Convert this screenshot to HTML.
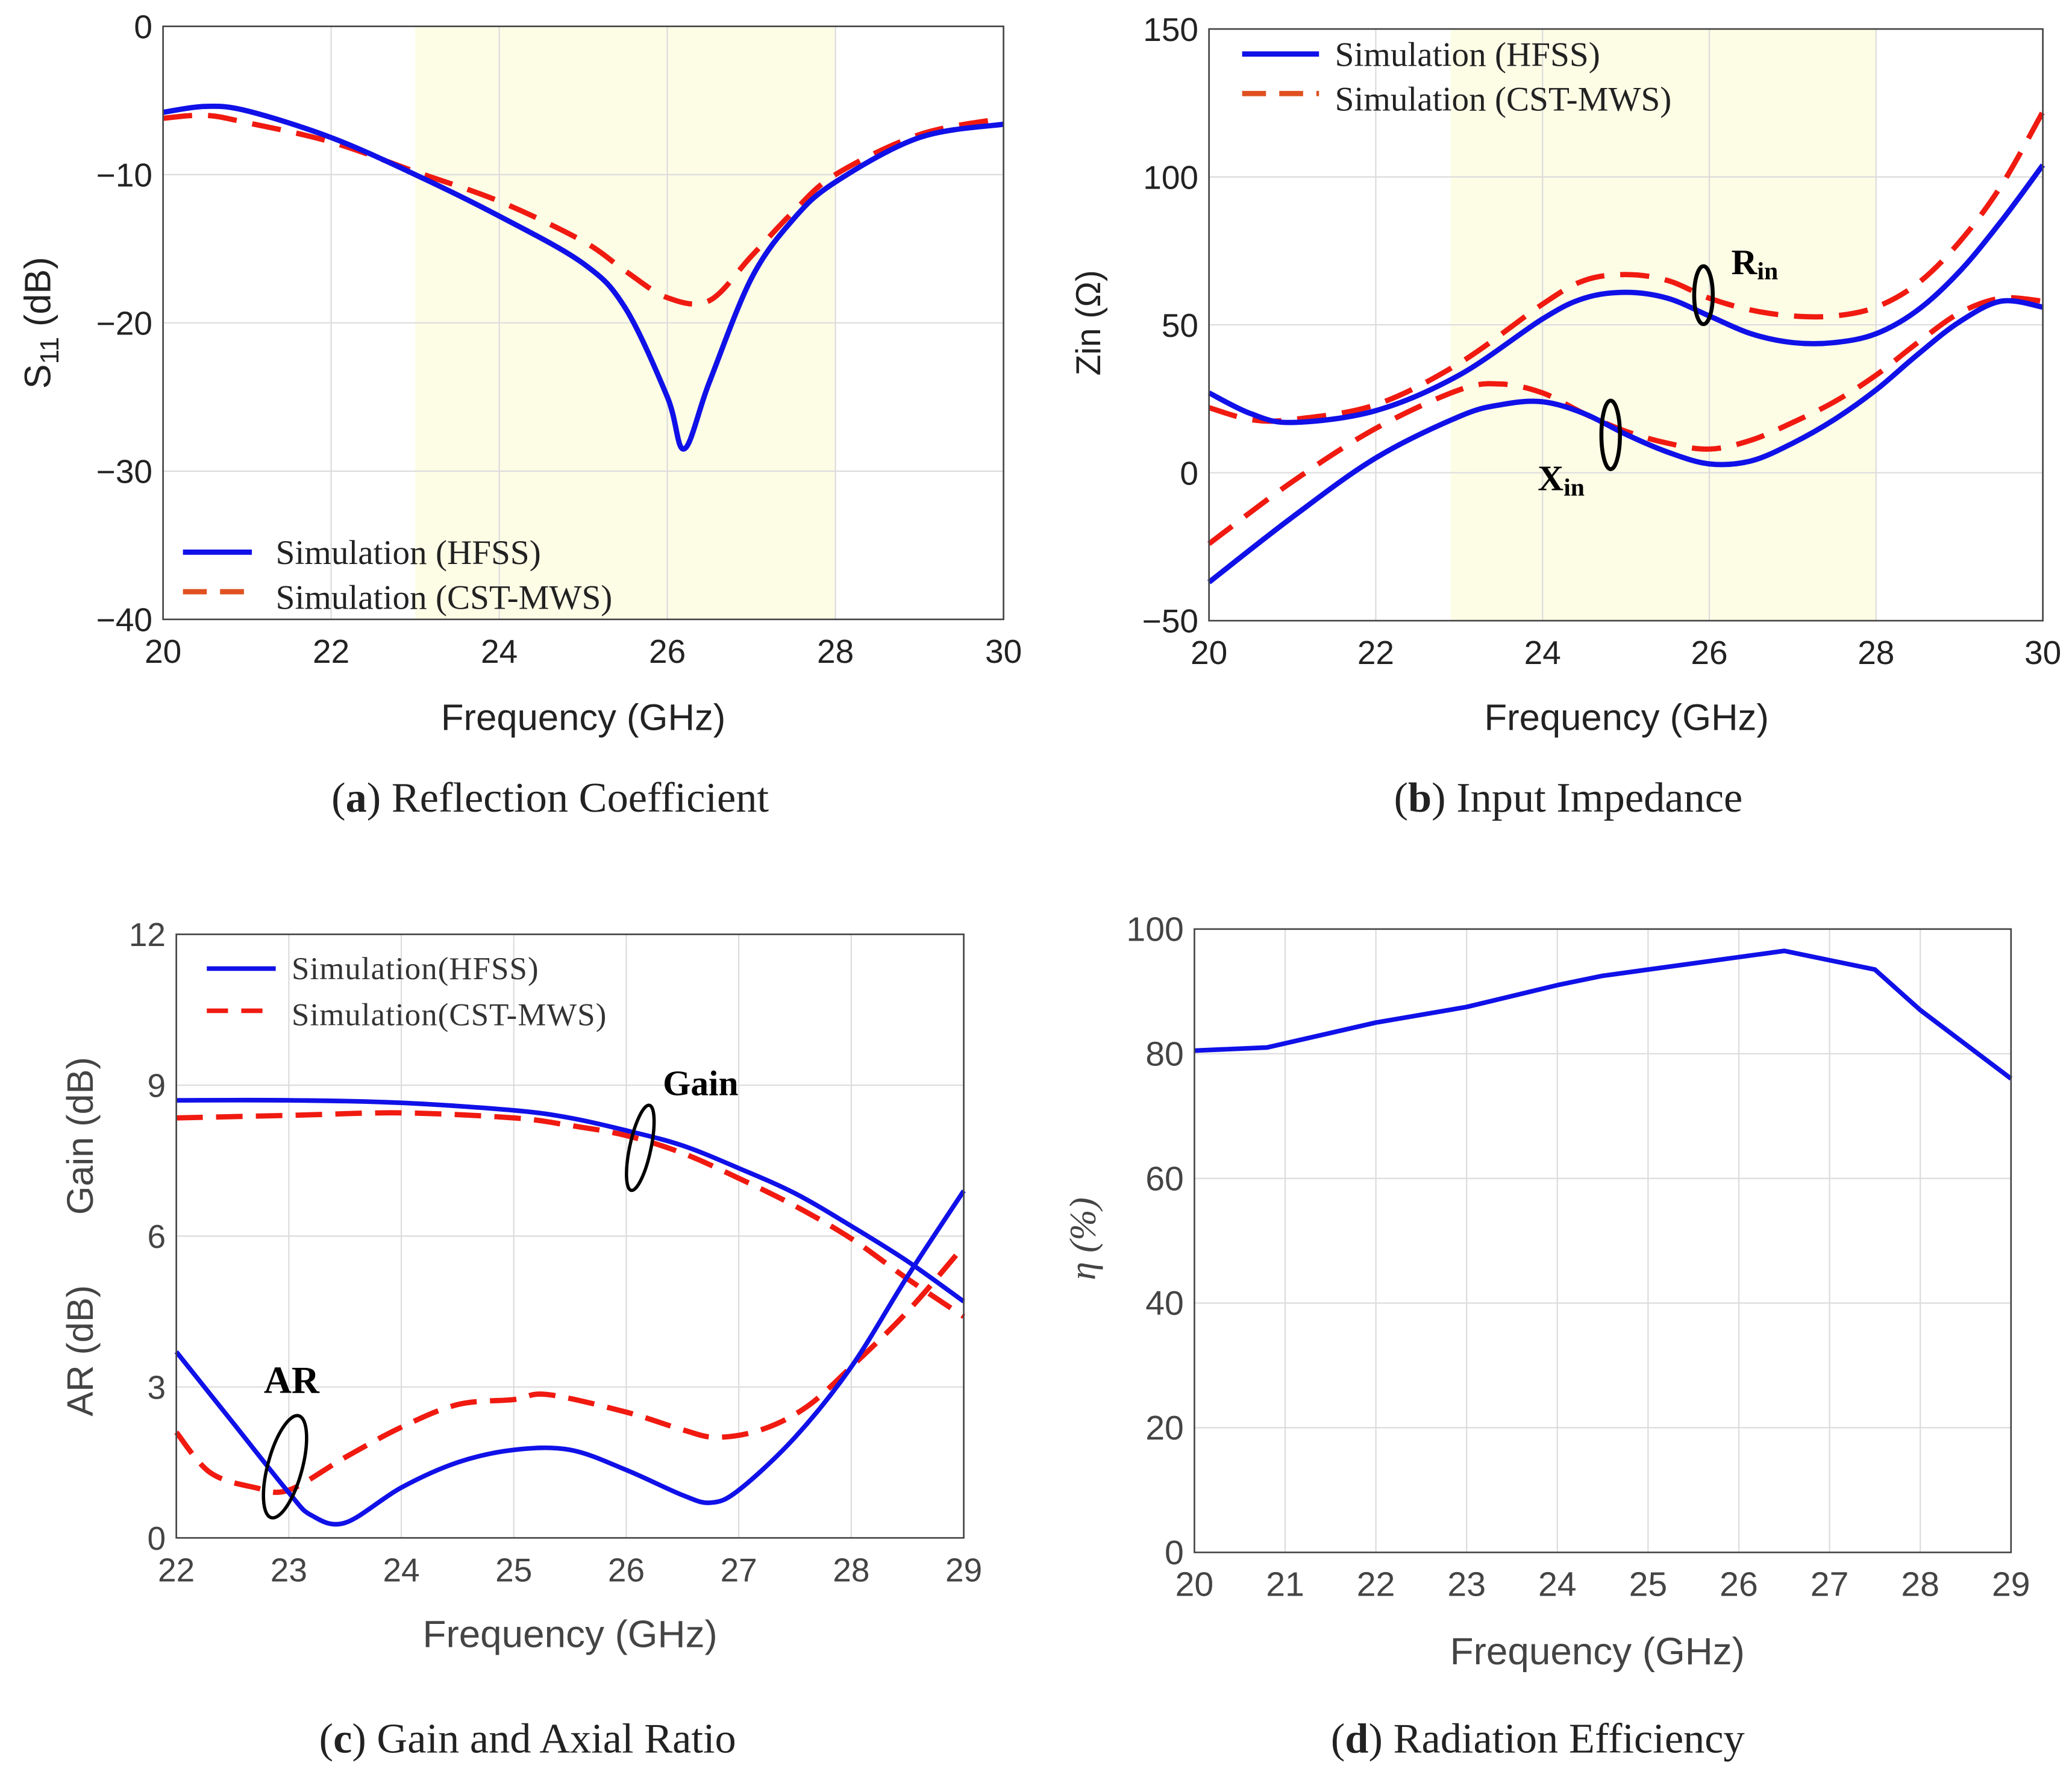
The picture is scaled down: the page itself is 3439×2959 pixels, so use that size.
<!DOCTYPE html>
<html><head><meta charset="utf-8"><style>
html,body{margin:0;padding:0;background:#fff}
svg{display:block}
</style></head><body>
<svg id="fig" width="3439" height="2959" viewBox="0 0 1563 1353" preserveAspectRatio="none" xmlns="http://www.w3.org/2000/svg"></svg>
<script>
// ---- Panel (a) data ----
const aFreqH=[20,20.5,21,22,23,24,25,25.5,26,26.2,26.5,27,27.5,28,29,30];
const aS11H=[-5.8,-5.4,-5.7,-7.5,-10,-12.8,-16,-19,-25,-28.5,-24,-17,-13,-10.5,-7.5,-6.6];
const aFreqC=[20,20.5,21,22,23,24,25,25.5,26,26.5,27,27.5,28,29,30];
const aS11C=[-6.2,-6.0,-6.5,-7.8,-9.8,-11.8,-14.5,-16.5,-18.3,-18.5,-15.5,-12.5,-10,-7.3,-6.2];
const aXTicks=[20,22,24,26,28,30];
const aYTicks=[0,-10,-20,-30,-40];
// ---- Panel (b) data ----
const bFreq=[20,20.5,21,22,23,24,24.5,25,25.5,26,26.5,27,27.5,28,28.5,29,29.5,30];
const bRH=[27,20,17,21,33,52,59,61,59,53,47,44,44,47,55,68,85,104];
const bRC=[22,18,18,23,37,57,65,67,65,59,55,53,53,56,64,78,97,122];
const bFreqX=[20,21,22,23,23.5,24,24.5,25,25.5,26,26.5,27,27.5,28,28.5,29,29.5,30];
const bXH=[-37,-15,5,19,23,24,20,13,7,3,4,10,18,28,40,51,58,56];
const bXC=[-24,-3,15,28,30,27,20,14,10,8,11,17,24,33,44,54,59,58];
const bXTicks=[20,22,24,26,28,30];
const bYTicks=[150,100,50,0,-50];
// ---- Panel (c) data ----
const cFreq=[22,23,24,25,25.5,26,26.5,27,27.5,28,28.5,29];
const cGainH=[8.7,8.7,8.65,8.5,8.35,8.1,7.8,7.35,6.85,6.2,5.5,4.7];
const cGainC=[8.35,8.4,8.45,8.35,8.2,8.0,7.65,7.15,6.6,5.95,5.15,4.4];
const cFreqARH=[22,22.5,23,23.2,23.5,24,24.5,25,25.5,26,26.5,26.75,27,27.5,28,28.5,29];
const cARH=[3.7,2.3,0.9,0.45,0.3,1.0,1.5,1.75,1.75,1.35,0.85,0.7,0.95,2.0,3.4,5.2,6.9];
const cFreqARC=[22,22.3,22.7,23,23.5,24,24.5,25,25.3,26,26.5,26.8,27.2,27.6,28,28.5,29];
const cARC=[2.1,1.3,1.0,0.95,1.6,2.2,2.65,2.75,2.85,2.5,2.15,2.0,2.15,2.6,3.4,4.5,5.8];
const cXTicks=[22,23,24,25,26,27,28,29];
const cYTicks=[0,3,6,9,12];
// ---- Panel (d) data ----
const dFreq=[20,20.8,22,23,24,24.5,25,26,26.5,27.5,28,29];
const dEff=[80.5,81,85,87.5,91,92.5,93.5,95.5,96.5,93.5,87,76];
const dXTicks=[20,21,22,23,24,25,26,27,28,29];
const dYTicks=[0,20,40,60,80,100];

const NS="http://www.w3.org/2000/svg";
const svg=document.getElementById('fig');
function mk(tag,attrs,parent,name,inter){
  const e=document.createElementNS(NS,tag);
  for(const k in attrs)e.setAttribute(k,attrs[k]);
  
  
  (parent||svg).appendChild(e);return e;
}
function txt(x,y,s,size,opts,parent,name){
  const t=mk('text',Object.assign({x:x,y:y,'font-size':size,'font-family':'"Liberation Sans",sans-serif',fill:'#222'},opts||{}),parent,name);
  t.textContent=s;return t;
}
function axes(x0,x1,y0,y1,xmin,xmax,ymin,ymax){
  return {sx:v=>x0+(v-xmin)/(xmax-xmin)*(x1-x0), sy:v=>y1-(v-ymin)/(ymax-ymin)*(y1-y0), x0,x1,y0,y1};
}
function line(ax,xs,ys,color,dash,g,name,w,smooth){
  const P=xs.map((x,i)=>[ax.sx(x),ax.sy(ys[i])]);
  let d='M'+P[0][0].toFixed(2)+','+P[0][1].toFixed(2);
  for(let i=1;i<P.length;i++){
    if(smooth){
      const p0=P[Math.max(0,i-2)],p1=P[i-1],p2=P[i],p3=P[Math.min(P.length-1,i+1)];
      const c1=[p1[0]+(p2[0]-p0[0])/6,p1[1]+(p2[1]-p0[1])/6];
      const c2=[p2[0]-(p3[0]-p1[0])/6,p2[1]-(p3[1]-p1[1])/6];
      d+=' C'+c1.map(v=>v.toFixed(2)).join(',')+' '+c2.map(v=>v.toFixed(2)).join(',')+' '+p2[0].toFixed(2)+','+p2[1].toFixed(2);
    } else d+=' L'+P[i][0].toFixed(2)+','+P[i][1].toFixed(2);
  }
  const p=mk('path',{d:d,fill:'none',stroke:color,'stroke-width':w||4,'stroke-linejoin':'round'},g,name);
  if(dash)p.setAttribute('stroke-dasharray',dash);
  return p;
}
function frame(ax,xt,yt,g,pref,fs,tcol){
  xt.forEach(v=>{mk('line',{x1:ax.sx(v),x2:ax.sx(v),y1:ax.y0,y2:ax.y1,stroke:'#dcdcdc','stroke-width':1},g,pref+'-x-grid');
    txt(ax.sx(v),ax.y1+33,String(v),fs,{'text-anchor':'middle',fill:tcol},g,pref+'-x-tick-label');});
  yt.forEach(v=>{mk('line',{x1:ax.x0,x2:ax.x1,y1:ax.sy(v),y2:ax.sy(v),stroke:'#dcdcdc','stroke-width':1},g,pref+'-y-grid');
    txt(ax.x0-8,ax.sy(v)+9,String(v).replace('-','\u2212'),fs,{'text-anchor':'end',fill:tcol},g,pref+'-y-tick-label');});
}
function border(ax,g,name){mk('rect',{x:ax.x0,y:ax.y0,width:ax.x1-ax.x0,height:ax.y1-ax.y0,fill:'none',stroke:'#444','stroke-width':1.2},g,name);}
const serif='"Liberation Serif",serif';
const BLUE='#1010e8', RED='#f01a10';

// ===== Panel a =====
let g=mk('g',{},svg,'panel-a-reflection-coefficient');
let A=axes(123,757,20,470,20,30,-40,0);
mk('rect',{x:A.sx(23),y:A.y0,width:A.sx(28)-A.sx(23),height:A.y1-A.y0,fill:'#fdfde6'},g,'band-highlight');
frame(A,aXTicks,aYTicks,g,'a',25,'#222');
line(A,aFreqC,aS11C,RED,'22,12',g,'s11-cst-line',4,true);
line(A,aFreqH,aS11H,BLUE,null,g,'s11-hfss-line',4,true);
border(A,g,'a-plot-border');
mk('line',{x1:138,x2:190,y1:419,y2:419,stroke:BLUE,'stroke-width':4},g,'legend-hfss-swatch');
txt(208,428,'Simulation (HFSS)',26,{'font-family':serif},g,'legend-hfss-label');
mk('line',{x1:138,x2:190,y1:449,y2:449,stroke:'#e05020','stroke-width':4,'stroke-dasharray':'18,10'},g,'legend-cst-swatch');
txt(208,462,'Simulation (CST-MWS)',26,{'font-family':serif},g,'legend-cst-label');
txt(440,554,'Frequency (GHz)',28,{'text-anchor':'middle'},g,'a-x-axis-title');
let yt=txt(0,0,'',28,{transform:'translate(38,245) rotate(-90)','text-anchor':'middle'},g,'a-y-axis-title');
yt.innerHTML='S<tspan font-size="20" dy="6">11</tspan><tspan dy="-6"> (dB)</tspan>';
let cap=txt(415,616,'',32,{'text-anchor':'middle','font-family':serif},g,'caption-a');
cap.innerHTML='(<tspan font-weight="bold">a</tspan>) Reflection Coefficient';

// ===== Panel b =====
g=mk('g',{},svg,'panel-b-input-impedance');
let B=axes(912,1541,22,471,20,30,-50,150);
mk('rect',{x:B.sx(22.9),y:B.y0,width:B.sx(28)-B.sx(22.9),height:B.y1-B.y0,fill:'#fdfde6'},g,'band-highlight');
frame(B,bXTicks,bYTicks,g,'b',25,'#222');
line(B,bFreq,bRC,RED,'22,12',g,'rin-cst-line',4,true);
line(B,bFreqX,bXC,RED,'22,12',g,'xin-cst-line',4,true);
line(B,bFreq,bRH,BLUE,null,g,'rin-hfss-line',4,true);
line(B,bFreqX,bXH,BLUE,null,g,'xin-hfss-line',4,true);
border(B,g,'b-plot-border');
mk('line',{x1:937,x2:995,y1:41,y2:41,stroke:BLUE,'stroke-width':4},g,'legend-hfss-swatch');
txt(1007,50,'Simulation (HFSS)',26,{'font-family':serif},g,'legend-hfss-label');
mk('line',{x1:937,x2:995,y1:71,y2:71,stroke:'#e05020','stroke-width':4,'stroke-dasharray':'18,10'},g,'legend-cst-swatch');
txt(1007,84,'Simulation (CST-MWS)',26,{'font-family':serif},g,'legend-cst-label');
mk('ellipse',{cx:1285,cy:224,rx:7,ry:22,fill:'none',stroke:'#000','stroke-width':3},g,'rin-annotation-ellipse');
let rt=txt(1306,208,'',27,{'font-family':serif,'font-weight':'bold',fill:'#000'},g,'rin-label');
rt.innerHTML='R<tspan font-size="19" dy="4">in</tspan>';
mk('ellipse',{cx:1215,cy:330,rx:7,ry:26,fill:'none',stroke:'#000','stroke-width':3},g,'xin-annotation-ellipse');
let xt2=txt(1160,372,'',27,{'font-family':serif,'font-weight':'bold',fill:'#000'},g,'xin-label');
xt2.innerHTML='X<tspan font-size="19" dy="4">in</tspan>';
txt(1227,554,'Frequency (GHz)',28,{'text-anchor':'middle'},g,'b-x-axis-title');
txt(0,0,'Zin (\u03A9)',26,{transform:'translate(830,245) rotate(-90)','text-anchor':'middle'},g,'b-y-axis-title');
cap=txt(1183,616,'',32,{'text-anchor':'middle','font-family':serif},g,'caption-b');
cap.innerHTML='(<tspan font-weight="bold">b</tspan>) Input Impedance';

// ===== Panel c =====
g=mk('g',{},svg,'panel-c-gain-axial-ratio');
let C=axes(133,727,709,1167,22,29,0,12);
frame(C,cXTicks,cYTicks,g,'c',25,'#444');
line(C,cFreq,cGainC,RED,'20,10',g,'gain-cst-line',4,true);
line(C,cFreqARC,cARC,RED,'20,10',g,'ar-cst-line',4,true);
line(C,cFreq,cGainH,BLUE,null,g,'gain-hfss-line',3.5,true);
line(C,cFreqARH,cARH,BLUE,null,g,'ar-hfss-line',3.5,true);
border(C,g,'c-plot-border');
mk('line',{x1:156,x2:208,y1:735,y2:735,stroke:BLUE,'stroke-width':3.5},g,'legend-hfss-swatch');
txt(220,743,'Simulation(HFSS)',24,{'font-family':serif,fill:'#333','letter-spacing':'0.5'},g,'legend-hfss-label');
mk('line',{x1:156,x2:208,y1:767,y2:767,stroke:RED,'stroke-width':3.5,'stroke-dasharray':'16,10'},g,'legend-cst-swatch');
txt(220,778,'Simulation(CST-MWS)',24,{'font-family':serif,fill:'#333','letter-spacing':'0.5'},g,'legend-cst-label');
mk('ellipse',{cx:483,cy:871,rx:8,ry:33,fill:'none',stroke:'#000','stroke-width':2.5,transform:'rotate(12 483 871)'},g,'gain-annotation-ellipse');
txt(500,831,'Gain',27,{'font-family':serif,'font-weight':'bold',fill:'#000'},g,'gain-label');
mk('ellipse',{cx:215,cy:1113,rx:13,ry:40,fill:'none',stroke:'#000','stroke-width':2.5,transform:'rotate(15 215 1113)'},g,'ar-annotation-ellipse');
txt(199,1057,'AR',29,{'font-family':serif,'font-weight':'bold',fill:'#000'},g,'ar-label');
txt(430,1250,'Frequency (GHz)',29,{'text-anchor':'middle',fill:'#444'},g,'c-x-axis-title');
txt(0,0,'AR (dB)',28,{transform:'translate(70,1025) rotate(-90)','text-anchor':'middle',fill:'#444'},g,'c-y-axis-title-ar');
txt(0,0,'Gain (dB)',28,{transform:'translate(70,862) rotate(-90)','text-anchor':'middle',fill:'#444'},g,'c-y-axis-title-gain');
cap=txt(398,1330,'',32,{'text-anchor':'middle','font-family':serif},g,'caption-c');
cap.innerHTML='(<tspan font-weight="bold">c</tspan>) Gain and Axial Ratio';

// ===== Panel d =====
g=mk('g',{},svg,'panel-d-radiation-efficiency');
let D=axes(901,1517,705,1178,20,29,0,100);
frame(D,dXTicks,dYTicks,g,'d',26,'#444');
line(D,dFreq,dEff,BLUE,null,g,'efficiency-line',3.5,false);
border(D,g,'d-plot-border');
txt(1205,1263,'Frequency (GHz)',29,{'text-anchor':'middle',fill:'#444'},g,'d-x-axis-title');
txt(0,0,'\u03B7 (%)',28,{transform:'translate(826,940) rotate(-90)','text-anchor':'middle',fill:'#444','font-family':serif,'font-style':'italic'},g,'d-y-axis-title');
cap=txt(1160,1330,'',32,{'text-anchor':'middle','font-family':serif},g,'caption-d');
cap.innerHTML='(<tspan font-weight="bold">d</tspan>) Radiation Efficiency';
</script>
</body></html>
